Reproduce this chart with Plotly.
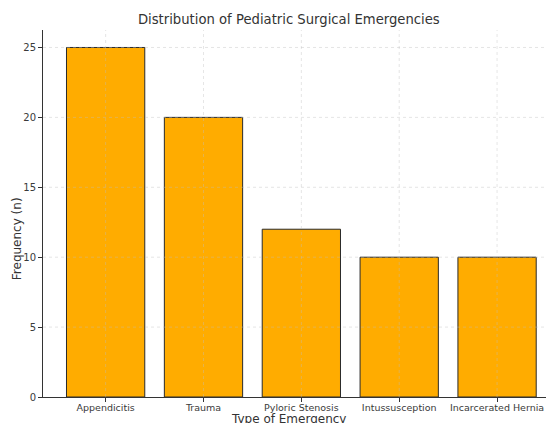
import plotly.graph_objects as go

categories = ["Appendicitis", "Trauma", "Pyloric Stenosis", "Intussusception", "Incarcerated Hernia"]
frequencies = [25, 20, 12, 10, 10]
y_ticks = [0, 5, 10, 15, 20, 25]

x_pos = list(range(len(categories)))
grid_col = "rgba(190,190,190,0.4)"

fig = go.Figure(
    go.Bar(
        x=x_pos,
        y=frequencies,
        width=0.8,
        marker=dict(color="#FFAC00", line=dict(color="#2a2a2a", width=1)),
        hoverinfo="skip",
    )
)

font = "DejaVu Sans, sans-serif"
fig.update_layout(
    width=546,
    height=423,
    margin=dict(l=43, r=0, t=30, b=26),
    plot_bgcolor="white",
    paper_bgcolor="white",
    showlegend=False,
    font=dict(family=font, size=9.5, color="#3a3a3a"),
    title=dict(
        text="Distribution of Pediatric Surgical Emergencies",
        x=0.529, xanchor="center", y=0.955, yanchor="middle",
        font=dict(size=13.2, color="#333333"),
    ),
)

# faint grid drawn over the bars as well
shapes = []
for xv in x_pos:
    shapes.append(dict(type="line", xref="x", yref="paper", x0=xv, x1=xv, y0=0, y1=1,
                       line=dict(color=grid_col, width=1, dash="dot"), layer="above"))
for yv in y_ticks[1:]:
    shapes.append(dict(type="line", xref="paper", yref="y", x0=0, x1=1, y0=yv, y1=yv,
                       line=dict(color=grid_col, width=1, dash="dot"), layer="above"))
fig.update_layout(shapes=shapes)

fig.update_xaxes(
    range=[-0.64, 4.5],
    tickmode="array",
    tickvals=x_pos,
    ticktext=categories,
    ticks="outside", ticklen=4, tickcolor="#333333",
    showline=True, linecolor="#333333", linewidth=1,
    showgrid=False,
    zeroline=False,
    ticklabeloverflow="allow",
    ticklabelstandoff=-2,
    tickfont=dict(size=9.5),
)
fig.update_yaxes(
    range=[0, 26.25],
    tickmode="array",
    tickvals=y_ticks,
    ticks="outside", ticklen=4, tickcolor="#333333",
    showline=True, linecolor="#333333", linewidth=1,
    showgrid=False,
    zeroline=False,
    tickfont=dict(size=10),
)

fig.add_annotation(text="Type of Emergency", xref="paper", yref="paper",
                   x=(288 - 43) / (546 - 43), y=0, yshift=-13, xanchor="center", yanchor="top",
                   showarrow=False, font=dict(size=12, color="#333333"))
fig.add_annotation(text="Frequency (n)", xref="paper", yref="paper",
                   x=0, xshift=-26, y=0.43, xanchor="center", yanchor="middle",
                   textangle=-90, showarrow=False, font=dict(size=12, color="#333333"))

fig.write_html("out.html")
